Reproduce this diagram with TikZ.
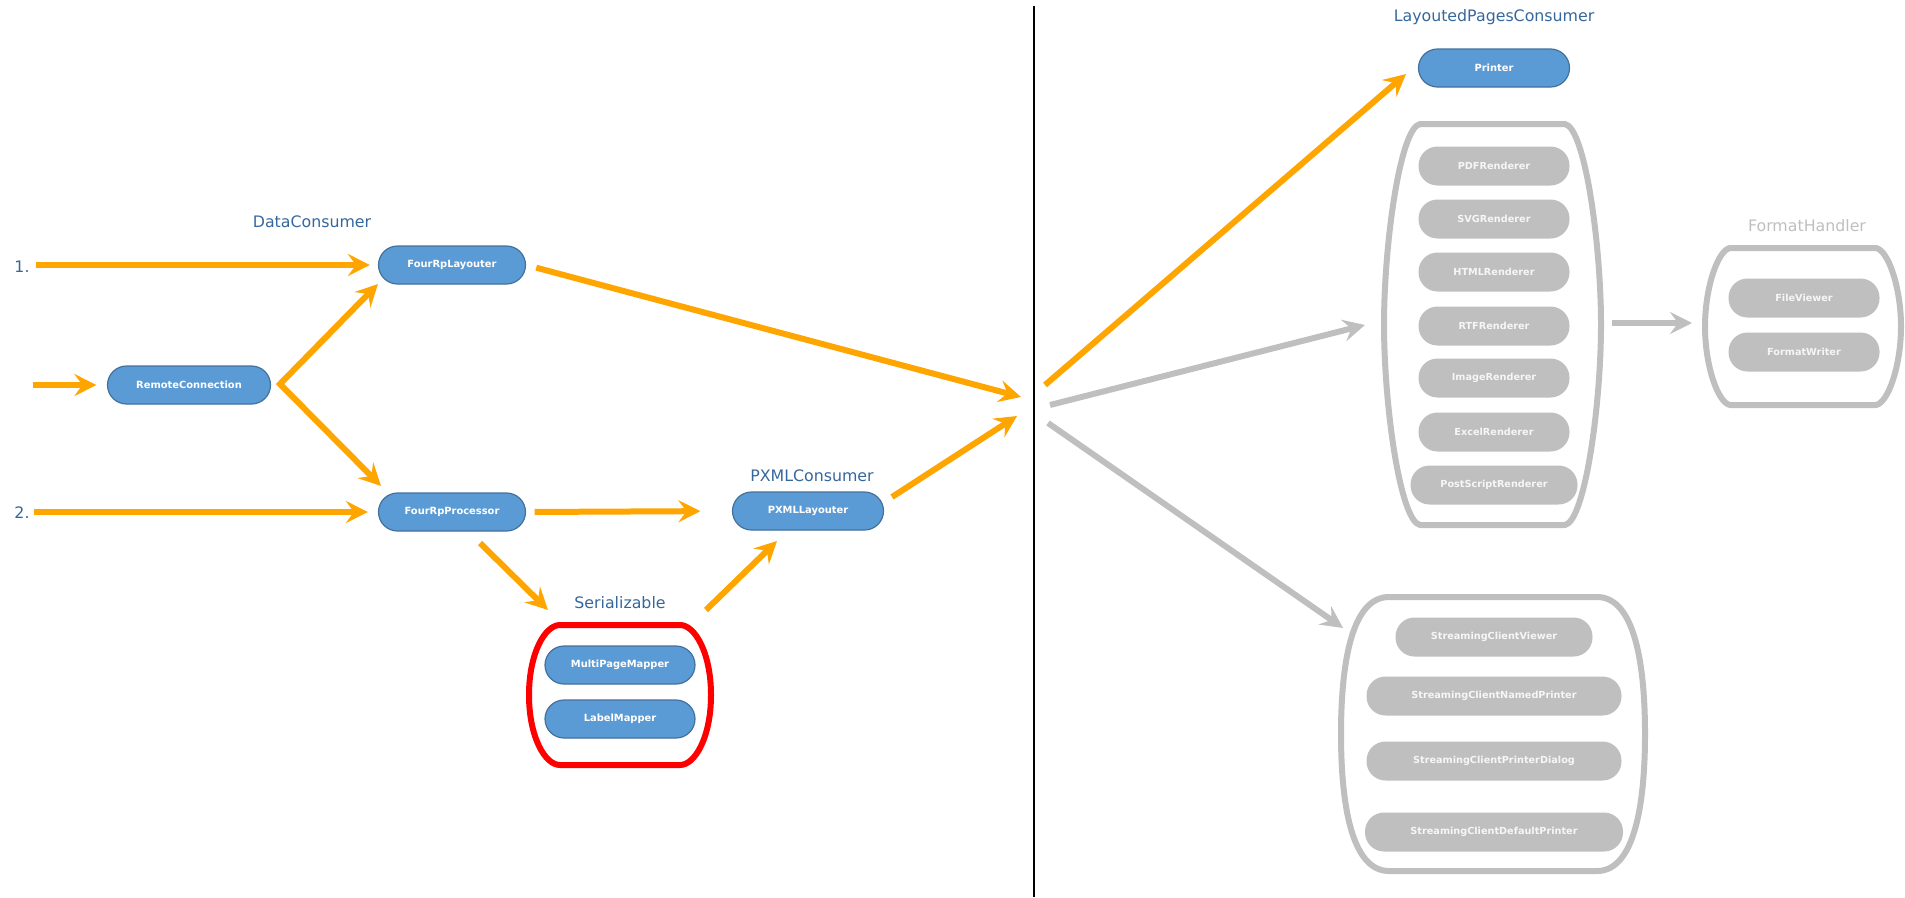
\documentclass[tikz,border=0pt]{standalone}
\usepackage{fontspec}
\setmainfont{DejaVu Sans}
\usetikzlibrary{arrows.meta}
\definecolor{nblue}{HTML}{5B9BD5}
\definecolor{nbord}{HTML}{41719C}
\definecolor{lblue}{HTML}{36679C}
\definecolor{orng}{HTML}{FFA500}
\definecolor{gry}{HTML}{BFBFBF}
\definecolor{gtxt}{HTML}{F6F6F6}
% #1 x1, #2 x2, #3 y1, #4 y2, #5 flat inset d, #6 handle a, #7 drop b, #8 fraction c, #9 style
\newcommand\mybarrel[9]{%
  \draw[#9] ({#1+#5},#3) -- ({#2-#5},#3)
   .. controls ({#2-#5+#6},{#3+#7}) and (#2,{#3+#8*(#4-#3)}) .. (#2,{0.5*(#3+#4)})
   .. controls (#2,{#4-#8*(#4-#3)}) and ({#2-#5+#6},{#4-#7}) .. ({#2-#5},#4)
   -- ({#1+#5},#4)
   .. controls ({#1+#5-#6},{#4-#7}) and (#1,{#4-#8*(#4-#3)}) .. (#1,{0.5*(#3+#4)})
   .. controls (#1,{#3+#8*(#4-#3)}) and ({#1+#5-#6},{#3+#7}) .. cycle;}
\tikzset{
  hd/.tip={Stealth[length=22pt,width=22pt,inset=8pt]},
  bnode/.style={draw=nbord, line width=1.2pt, fill=nblue, rounded corners=19pt,
    minimum height=38pt, text=white, inner sep=0pt,
    font=\fontsize{9.9}{11}\selectfont\bfseries},
  gnode/.style={fill=gry, rounded corners=19pt, minimum height=39pt, text=gtxt,
    inner sep=0pt, font=\fontsize{9.7}{11}\selectfont\bfseries},
  lbl/.style={text=lblue, inner sep=0pt, font=\fontsize{15.8}{18}\selectfont},
  glbl/.style={text=gry, inner sep=0pt, font=\fontsize{15.8}{18}\selectfont},
  oarr/.style={draw=orng, line width=6pt, -hd},
  garr/.style={draw=gry, line width=6pt, -hd},
  gbox/.style={draw=gry, line width=6pt, line join=round},
  rbox/.style={draw=red, line width=6pt, line join=round}
}
\begin{document}
\begin{tikzpicture}[x=1pt,y=-1pt]
\useasboundingbox (0,0) rectangle (1905,897);
% divider
\draw[line width=2.5pt] (1034,6) -- (1034,897);
% containers
\mybarrel{529}{711}{625}{765}{31}{15}{0}{0.2}{rbox}
\mybarrel{1384}{1601}{124}{525}{36}{20}{4}{0.3}{gbox}
\mybarrel{1705}{1901}{248}{405}{25}{12}{2}{0.25}{gbox}
\mybarrel{1341}{1645}{597}{871}{48}{38}{0}{0.25}{gbox}
% labels
\node[lbl] (n1) at (22,267) {1.};
\node[lbl] (n2) at (22,513) {2.};
\node[lbl] (ldc) at (312,222) {DataConsumer};
\node[lbl] (lpx) at (812,476) {PXMLConsumer};
\node[lbl] (lser) at (620,603) {Serializable};
\node[lbl] (llpc) at (1494,17) {LayoutedPagesConsumer};
\node[glbl] (lfh) at (1807,226) {FormatHandler};
% blue nodes
\node[bnode, minimum width=147pt] (lay) at (452,265) {FourRpLayouter};
\node[bnode, minimum width=163pt] (rc) at (189,385) {RemoteConnection};
\node[bnode, minimum width=147pt] (proc) at (452,512) {FourRpProcessor};
\node[bnode, minimum width=151pt] (pxml) at (808,511) {PXMLLayouter};
\node[bnode, minimum width=150pt] (mpm) at (620,665) {MultiPageMapper};
\node[bnode, minimum width=150pt] (lm) at (620,719) {LabelMapper};
\node[bnode, minimum width=151pt] (prn) at (1494,68) {Printer};
% gray nodes
\node[gnode, minimum width=151pt] (pdf) at (1494,166) {PDFRenderer};
\node[gnode, minimum width=151pt] (svg) at (1494,219) {SVGRenderer};
\node[gnode, minimum width=151pt] (html) at (1494,272) {HTMLRenderer};
\node[gnode, minimum width=151pt] (rtf) at (1494,326) {RTFRenderer};
\node[gnode, minimum width=151pt] (img) at (1494,378) {ImageRenderer};
\node[gnode, minimum width=151pt] (xls) at (1494,432) {ExcelRenderer};
\node[gnode, minimum width=167pt] (ps) at (1494,485) {PostScriptRenderer};
\node[gnode, minimum width=151pt] (fv) at (1804,298) {FileViewer};
\node[gnode, minimum width=151pt] (fw) at (1804,352) {FormatWriter};
\node[gnode, minimum width=197pt] (scv) at (1494,637) {StreamingClientViewer};
\node[gnode, minimum width=255pt] (scn) at (1494,696) {StreamingClientNamedPrinter};
\node[gnode, minimum width=255pt] (scd) at (1494,761) {StreamingClientPrinterDialog};
\node[gnode, minimum width=258pt] (scp) at (1494,832) {StreamingClientDefaultPrinter};
% coordinates
\coordinate (in1) at (36,265);
\coordinate (in2) at (34,512);
\coordinate (in3) at (33,385);
\coordinate (fu) at (378,284);
\coordinate (fork) at (280,384);
\coordinate (fd) at (381,486);
\coordinate (ps1) at (480,543);
\coordinate (ps2) at (548,610);
\coordinate (sp1) at (706,610);
\coordinate (sp2) at (777,541);
\coordinate (m1) at (1021,397);
\coordinate (px1) at (892,497);
\coordinate (m2) at (1017,416);
\coordinate (r1s) at (1045,385);
\coordinate (r1e) at (1406,74);
\coordinate (r2s) at (1050,405);
\coordinate (r2e) at (1365,325);
\coordinate (r3s) at (1048,423);
\coordinate (r3e) at (1343,628);
\coordinate (f1) at (1612,323);
\coordinate (f2) at (1692,323);
% connectors
\draw[oarr, shorten >=8pt] (in1) -- (lay.west);
\draw[oarr, shorten >=10pt] (in2) -- (proc.west);
\draw[oarr, shorten >=10.5pt] (in3) -- (rc.west);
\draw[draw=orng, line width=6pt, hd-hd, line join=miter] (fu) -- (fork) -- (fd);
\draw[oarr, shorten <=8.5pt, shorten >=31.5pt] (proc.east) -- (pxml.west);
\draw[oarr] (ps1) -- (ps2);
\draw[oarr] (sp1) -- (sp2);
\draw[oarr, shorten <=10.5pt] (lay.east) -- (m1);
\draw[oarr] (px1) -- (m2);
\draw[oarr] (r1s) -- (r1e);
\draw[garr] (r2s) -- (r2e);
\draw[garr] (r3s) -- (r3e);
\draw[garr] (f1) -- (f2);
\end{tikzpicture}
\end{document}
